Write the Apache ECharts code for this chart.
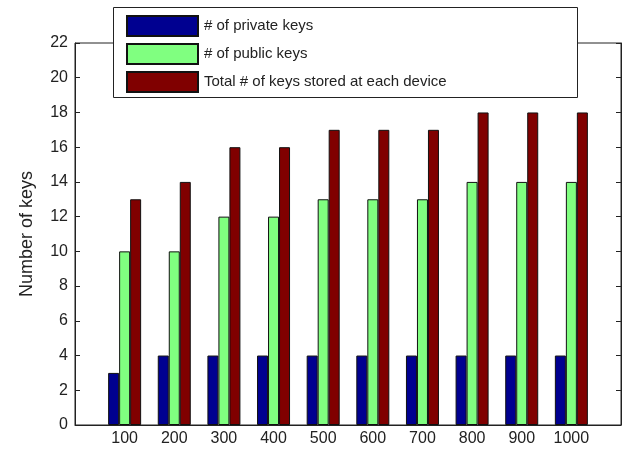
<!DOCTYPE html>
<html>
<head>
<meta charset="utf-8">
<style>
  html, body { margin: 0; padding: 0; background: #fff; }
  #chart { width: 624px; height: 452px; }
</style>
<script src="https://cdn.jsdelivr.net/npm/echarts@6/dist/echarts.min.js"></script>
</head>
<body>
<div id="chart"></div>
<script>
// Number of devices in the network (x categories)
const categories = ['100', '200', '300', '400', '500', '600', '700', '800', '900', '1000'];
// Keys per device
const privateKeys = [3, 4, 4, 4, 4, 4, 4, 4, 4, 4];
const publicKeys = [10, 10, 12, 12, 13, 13, 13, 14, 14, 14];
const totalKeys = [13, 14, 16, 16, 17, 17, 17, 18, 18, 18];
const seriesNames = ['# of private keys', '# of public keys', 'Total # of keys stored at each device'];
const yTicks = { min: 0, max: 22, interval: 2 };

// pad the axis with an empty slot on each side so the bars sit inside the frame
const pad = arr => [null].concat(arr, [null]);
const axisCats = [''].concat(categories, ['']);

const font = 'Liberation Sans, Arial, Helvetica, sans-serif';
const textColor = '#222';

const barStyle = color => ({
  color: color,
  borderColor: '#111',
  borderWidth: 1
});

const chart = echarts.init(document.getElementById('chart'));
chart.setOption({
  animation: false,
  backgroundColor: '#fff',
  textStyle: { fontFamily: font },
  grid: {
    left: 75, right: 3, top: 43, bottom: 27,
    show: true, borderColor: '#222', borderWidth: 1
  },
  graphic: [{
    type: 'rect',
    left: 113, top: 7, z: 50,
    shape: { width: 464, height: 90 },
    style: { fill: '#fff', stroke: '#222', lineWidth: 1 }
  }],
  legend: {
    orient: 'vertical',
    left: 124, top: 13,
    z: 60,
    icon: 'rect',
    itemWidth: 71, itemHeight: 20, itemGap: 6,
    padding: 2,
    textStyle: { fontFamily: font, fontSize: 15, color: textColor, padding: [0, 0, 0, 1] },
    data: seriesNames
  },
  xAxis: {
    type: 'category',
    data: axisCats,
    boundaryGap: false,
    axisLine: { lineStyle: { color: '#222', width: 1 } },
    axisTick: { show: false },
    axisLabel: { color: textColor, fontSize: 16, margin: 6, fontFamily: font }
  },
  yAxis: [{
    type: 'value',
    min: yTicks.min, max: yTicks.max, interval: yTicks.interval,
    name: 'Number of keys',
    nameLocation: 'middle',
    nameGap: 39,
    nameTextStyle: { fontSize: 18, color: textColor, fontFamily: font },
    axisLine: { show: true, lineStyle: { color: '#222', width: 1 } },
    axisTick: { show: true, inside: true, length: 5, lineStyle: { color: '#222' } },
    axisLabel: { color: textColor, fontSize: 16, margin: 7, fontFamily: font },
    splitLine: { show: false }
  }, {
    type: 'value',
    position: 'right',
    min: yTicks.min, max: yTicks.max, interval: yTicks.interval,
    axisLine: { show: true, lineStyle: { color: '#222', width: 1 } },
    axisTick: { show: true, inside: true, length: 5, lineStyle: { color: '#222' } },
    axisLabel: { show: false },
    splitLine: { show: false }
  }],
  series: [{
    name: seriesNames[0], type: 'bar', data: pad(privateKeys),
    barWidth: 11, barGap: '0%', itemStyle: barStyle('#000090')
  }, {
    name: seriesNames[1], type: 'bar', data: pad(publicKeys),
    barWidth: 11, barGap: '0%', itemStyle: barStyle('#80FF80')
  }, {
    name: seriesNames[2], type: 'bar', data: pad(totalKeys),
    barWidth: 11, barGap: '0%', itemStyle: barStyle('#800000')
  }]
});
</script>
</body>
</html>
